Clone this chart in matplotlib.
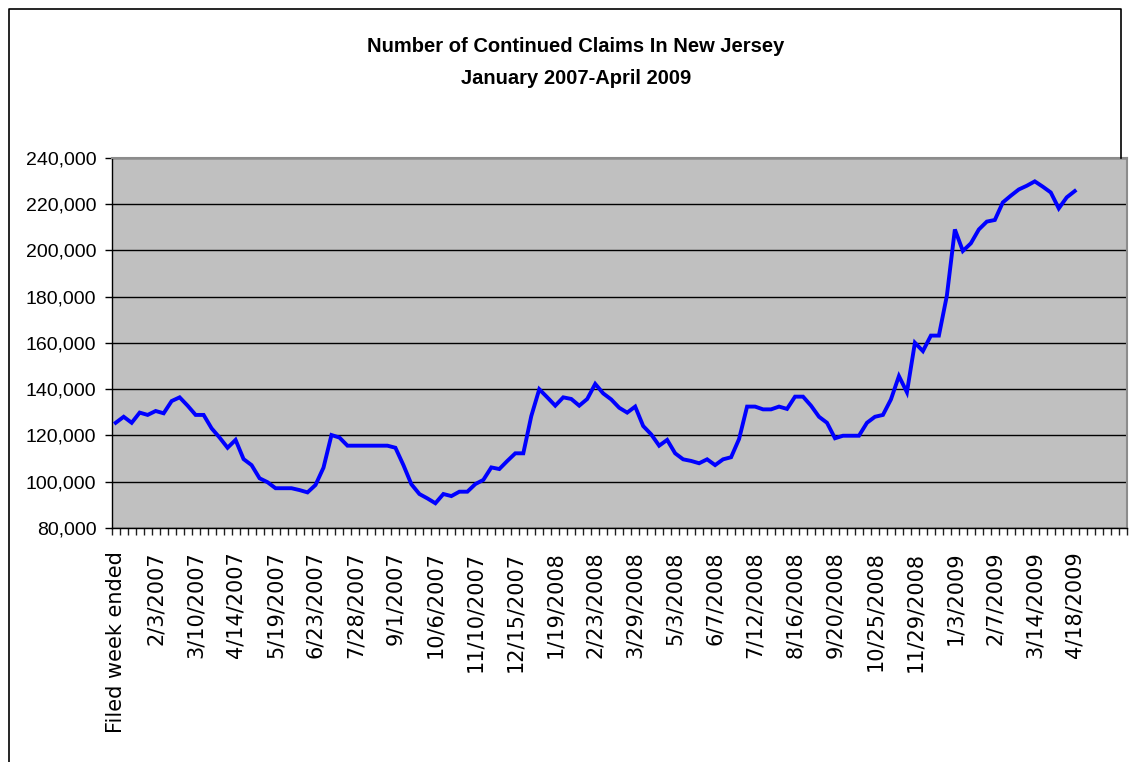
import numpy as np
import pandas as pd
import matplotlib
matplotlib.use('Agg')
import matplotlib.pyplot as plt
from matplotlib.lines import Line2D
from matplotlib.ticker import FuncFormatter

# weekly continued claims, first row carries the sheet's header label
first_label = 'Filed week ended'
week_dates = pd.date_range('2007-01-06', periods=120, freq='7D')
claims = [
    125500, 128100, 125500, 129900, 128900, 130600, 129600, 134900, 136500, 132900,
    128900, 128900, 123100, 119100, 114700, 118100, 109800, 107200, 101500, 99800,
    97200, 97200, 97200, 96400, 95400, 98600, 106100, 120200, 119100, 115600,
    115600, 115600, 115600, 115600, 115600, 114700, 107200, 98900, 94700, 92800,
    90700, 94700, 93800, 95700, 95700, 99000, 100800, 106200, 105500, 109000,
    112300, 112300, 128400, 140000, 136500, 132900, 136500, 135800, 132900, 135800,
    142300, 138200, 135600, 132000, 129900, 132500, 124100, 120500, 115600, 118100,
    112300, 109700, 109000, 108000, 109700, 107200, 109700, 110600, 118500, 132500,
    132500, 131300, 131300, 132500, 131500, 136800, 136800, 132900, 128100, 125500,
    118800, 119900, 119900, 119900, 125500, 128100, 128900, 135600, 145700, 138700,
    160100, 156500, 163200, 163200, 180500, 209100, 199800, 203100, 209100, 212500,
    213200, 220800, 223700, 226400, 228000, 229900, 227600, 225100, 218200, 223000,
    225700,
]
n_blank = 6   # empty rows left in the category range

categories = [first_label] + ['{}/{}/{}'.format(d.month, d.day, d.year) for d in week_dates]
categories += [''] * n_blank
n_cat = len(categories)

W, H = 1131, 762
fig = plt.figure(figsize=(W / 100, H / 100), dpi=100)
fig.patch.set_facecolor('white')

ax = fig.add_axes([111.7 / W, 1 - 528 / H, 1015 / W, 370 / H])
ax.set_facecolor('#c0c0c0')

x = np.arange(len(claims))
ax.plot(x, claims, color='#0000ff', linewidth=2.8, solid_joinstyle='miter', zorder=3)

ax.set_xlim(-0.5, n_cat - 0.5)
ax.set_ylim(80000, 240000)
ax.set_yticks(np.arange(80000, 240001, 20000))
ax.yaxis.set_major_formatter(FuncFormatter(lambda v, p: '{:,.0f}'.format(v)))
ax.yaxis.grid(True, color='black', linewidth=1)
ax.set_axisbelow(True)

# category boundaries get the tick marks, every 5th category gets a label
ax.set_xticks(np.arange(-0.5, n_cat, 1.0))
ax.set_xticklabels([])
lab_pos = [i for i in range(0, n_cat, 5) if categories[i]]
ax.set_xticks(lab_pos, minor=True)
ax.set_xticklabels([categories[i] for i in lab_pos], minor=True, rotation=90,
                   va='top', ha='center', family='DejaVu Sans', fontsize=15)
ax.tick_params(axis='x', which='major', direction='out', length=5, width=1, color='#202020')
ax.tick_params(axis='x', which='minor', length=0, pad=17)
ax.tick_params(axis='y', direction='out', length=5, width=1, color='black', pad=6)
for lab in ax.get_yticklabels():
    lab.set_family('Liberation Sans')
    lab.set_fontsize(14)

for side in ['left', 'bottom']:
    ax.spines[side].set_color('black')
    ax.spines[side].set_linewidth(1)
for side in ['top', 'right']:
    ax.spines[side].set_color('#8c8c8c')
    ax.spines[side].set_linewidth(1.5)

title_font = ['Liberation Sans Narrow', 'Liberation Sans']
fig.text(576 / W, 1 - 46 / H, 'Number of Continued Claims In New Jersey', ha='center', va='center',
         family=title_font, fontweight='bold', fontsize=14.5)
fig.text(576 / W, 1 - 78 / H, 'January 2007-April 2009', ha='center', va='center',
         family=title_font, fontweight='bold', fontsize=14.5)

# chart area frame
def px_line(xs, ys):
    fig.add_artist(Line2D([v / W for v in xs], [1 - v / H for v in ys],
                          color='black', linewidth=1.2, transform=fig.transFigure))

px_line([8.5, 8.5, 1120.5, 1120.5], [762, 8.5, 8.5, 158])

fig.savefig('out.png', dpi=100)
